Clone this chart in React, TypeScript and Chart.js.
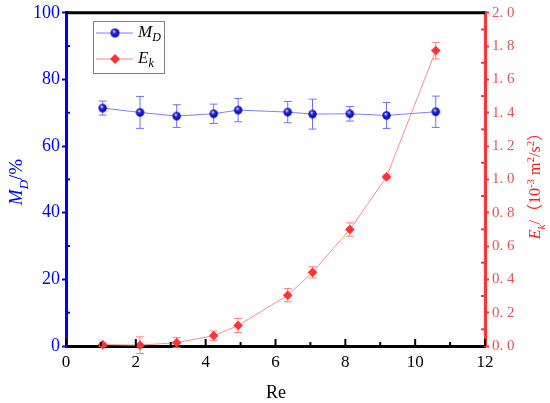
import React, { useEffect, useRef } from "react";
import { Chart, registerables } from "chart.js";
Chart.register(...registerables);

const reValues = [1.05, 2.12, 3.17, 4.23, 4.93, 6.35, 7.06, 8.13, 9.18, 10.59];
const mdValues = [71.4, 70.1, 69.0, 69.7, 70.8, 70.2, 69.6, 69.7, 69.2, 70.3];
const mdErrors = [2.1, 4.8, 3.4, 2.9, 3.5, 3.2, 4.5, 2.2, 3.9, 4.7];
const ekValues = [0.008, 0.005, 0.02, 0.062, 0.123, 0.305, 0.442, 0.699, 1.015, 1.773];
const ekErrors = [0.01, 0.05, 0.03, 0.028, 0.042, 0.04, 0.034, 0.04, 0.012, 0.05];

const SERIF = "'Liberation Serif', 'DejaVu Serif', serif";
const SERIF_CJK = "'Liberation Serif', 'Noto Sans CJK SC', serif";
const BLUE = "#0000ff";
const RED = "#ff3333";

type Seg = { t: string; it?: boolean; s?: "sub" | "sup" };

function drawRich(
  ctx: CanvasRenderingContext2D,
  segs: Seg[],
  x: number,
  y: number,
  angle: number,
  size: number,
  color: string,
  family: string,
  align: "center" | "left" = "center"
) {
  ctx.save();
  ctx.translate(x, y);
  ctx.rotate(angle);
  const font = (seg: Seg) =>
    `${seg.it ? "italic " : ""}${seg.s ? Math.round(size * 0.68) : size}px ${family}`;
  let total = 0;
  for (const seg of segs) {
    ctx.font = font(seg);
    total += ctx.measureText(seg.t).width;
  }
  let cx = align === "center" ? -total / 2 : 0;
  ctx.fillStyle = color;
  ctx.textBaseline = "alphabetic";
  ctx.textAlign = "left";
  for (const seg of segs) {
    ctx.font = font(seg);
    const dy = seg.s === "sub" ? size * 0.28 : seg.s === "sup" ? -size * 0.38 : 0;
    ctx.fillText(seg.t, cx, dy + size * 0.33);
    cx += ctx.measureText(seg.t).width;
  }
  ctx.restore();
}

function makeSphere(r: number) {
  const c = document.createElement("canvas");
  const s = Math.ceil(r * 2) + 2;
  c.width = s;
  c.height = s;
  const g = c.getContext("2d")!;
  const cx = s / 2;
  const cy = s / 2;
  const grad = g.createRadialGradient(cx - r * 0.25, cy - r * 0.4, r * 0.08, cx, cy, r);
  grad.addColorStop(0, "#e8e8ff");
  grad.addColorStop(0.35, "#2a2aff");
  grad.addColorStop(1, "#00008a");
  g.fillStyle = grad;
  g.beginPath();
  g.arc(cx, cy, r, 0, Math.PI * 2);
  g.fill();
  return c;
}

const errorBarPlugin = {
  id: "errorBars",
  beforeDatasetsDraw(chart: any) {
    const ctx = chart.ctx as CanvasRenderingContext2D;
    const xs = chart.scales.x;
    chart.data.datasets.forEach((ds: any) => {
      const ys = chart.scales[ds.yAxisID];
      ctx.save();
      ctx.strokeStyle = ds.errorColor;
      ctx.lineWidth = 1;
      ds.data.forEach((p: any, i: number) => {
        const e = ds.errors[i];
        const px = xs.getPixelForValue(p.x);
        const top = ys.getPixelForValue(p.y + e);
        const bot = ys.getPixelForValue(p.y - e);
        ctx.beginPath();
        ctx.moveTo(px, top);
        ctx.lineTo(px, bot);
        ctx.moveTo(px - 4, top);
        ctx.lineTo(px + 4, top);
        ctx.moveTo(px - 4, bot);
        ctx.lineTo(px + 4, bot);
        ctx.stroke();
      });
      ctx.restore();
    });
  },
};

const decorPlugin = {
  id: "decor",
  afterDraw(chart: any) {
    const ctx = chart.ctx as CanvasRenderingContext2D;
    const a = chart.chartArea;
    const xs = chart.scales.x;
    const yl = chart.scales.y;
    const yr = chart.scales.y1;
    ctx.save();
    // top border
    ctx.strokeStyle = "#000";
    ctx.lineWidth = 3;
    ctx.beginPath();
    ctx.moveTo(a.left, a.top);
    ctx.lineTo(a.right, a.top);
    ctx.stroke();
    // x ticks inward
    ctx.lineWidth = 2;
    for (let v = 0; v <= 12; v += 1) {
      const px = xs.getPixelForValue(v);
      const len = v % 2 === 0 ? 7 : 4;
      ctx.beginPath();
      ctx.moveTo(px, a.bottom);
      ctx.lineTo(px, a.bottom - len);
      ctx.stroke();
    }
    // left minor ticks
    ctx.strokeStyle = BLUE;
    for (let v = 10; v < 100; v += 20) {
      const py = yl.getPixelForValue(v);
      ctx.beginPath();
      ctx.moveTo(a.left, py);
      ctx.lineTo(a.left + 4, py);
      ctx.stroke();
    }
    // right minor ticks
    ctx.strokeStyle = RED;
    for (let v = 0.1; v < 2; v += 0.2) {
      const py = yr.getPixelForValue(v);
      ctx.beginPath();
      ctx.moveTo(a.right, py);
      ctx.lineTo(a.right - 4, py);
      ctx.stroke();
    }
    ctx.restore();

    // axis titles
    drawRich(ctx, [{ t: "M", it: true }, { t: "D", it: true, s: "sub" }, { t: "/%" }], 16, 182, -Math.PI / 2, 19, BLUE, SERIF);
    drawRich(
      ctx,
      [
        { t: "E", it: true },
        { t: "k", it: true, s: "sub" },
        { t: "/（" },
        { t: "10" },
        { t: "-3", s: "sup" },
        { t: " m" },
        { t: "2", s: "sup" },
        { t: "/s" },
        { t: "2", s: "sup" },
        { t: "）" },
      ],
      535,
      182,
      -Math.PI / 2,
      16,
      "#ff1a1a",
      SERIF_CJK
    );
    drawRich(ctx, [{ t: "Re" }], 276, 392, 0, 18, "#000", SERIF);

    // legend
    ctx.save();
    ctx.fillStyle = "#fff";
    ctx.fillRect(93, 21, 71, 52);
    ctx.strokeStyle = "#808080";
    ctx.lineWidth = 1;
    ctx.strokeRect(93.5, 21.5, 71, 52);
    ctx.strokeStyle = "#7f7fff";
    ctx.beginPath();
    ctx.moveTo(96, 33);
    ctx.lineTo(133, 33);
    ctx.stroke();
    ctx.strokeStyle = "#ff8080";
    ctx.beginPath();
    ctx.moveTo(96, 59);
    ctx.lineTo(133, 59);
    ctx.stroke();
    const sph = makeSphere(4.5);
    ctx.drawImage(sph, 115 - sph.width / 2, 33 - sph.height / 2);
    ctx.fillStyle = RED;
    ctx.beginPath();
    ctx.moveTo(115, 54);
    ctx.lineTo(120, 59);
    ctx.lineTo(115, 64);
    ctx.lineTo(110, 59);
    ctx.closePath();
    ctx.fill();
    ctx.restore();
    drawRich(ctx, [{ t: "M", it: true }, { t: "D", it: true, s: "sub" }], 138, 31, 0, 17, "#000", SERIF, "left");
    drawRich(ctx, [{ t: "E", it: true }, { t: "k", it: true, s: "sub" }], 138, 57, 0, 17, "#000", SERIF, "left");
  },
};

export default function App() {
  const ref = useRef<HTMLCanvasElement | null>(null);
  useEffect(() => {
    document.body.style.margin = "0";
    if (!ref.current) return;
    const sphere = makeSphere(4.2);
    const chart = new Chart(ref.current, {
      type: "line",
      data: {
        datasets: [
          {
            label: "MD",
            data: reValues.map((x, i) => ({ x, y: mdValues[i] })),
            yAxisID: "y",
            borderColor: "#7f7fff",
            borderWidth: 1,
            pointStyle: sphere as any,
            pointRadius: 4.5,
            clip: false,
            errors: mdErrors,
            errorColor: "#6f6fff",
          } as any,
          {
            label: "Ek",
            data: reValues.map((x, i) => ({ x, y: ekValues[i] })),
            yAxisID: "y1",
            borderColor: "#ff8a8a",
            borderWidth: 1,
            pointStyle: "rectRot",
            pointRadius: 4.8,
            pointBackgroundColor: RED,
            pointBorderColor: RED,
            pointBorderWidth: 0,
            clip: false,
            errors: ekErrors,
            errorColor: "#ff8080",
          } as any,
        ],
      },
      options: {
        animation: false,
        responsive: true,
        maintainAspectRatio: false,
        layout: { padding: { top: 11, left: 0, right: 0, bottom: 0 } },
        plugins: { legend: { display: false }, tooltip: { enabled: false } },
        scales: {
          x: {
            type: "linear",
            min: 0,
            max: 12,
            ticks: { stepSize: 2, color: "#000", font: { family: SERIF, size: 17 }, padding: 6 },
            grid: { drawOnChartArea: false, drawTicks: false },
            border: { color: "#000", width: 3 },
            afterFit: (s: any) => {
              s.height = 57;
            },
          },
          y: {
            type: "linear",
            position: "left",
            min: 0,
            max: 100,
            ticks: { stepSize: 20, color: BLUE, font: { family: SERIF, size: 18 }, padding: 2 },
            grid: { drawOnChartArea: false, drawTicks: true, tickLength: 4, tickWidth: 2, tickColor: BLUE },
            border: { color: BLUE, width: 3 },
            afterFit: (s: any) => {
              s.width = 66;
            },
          },
          y1: {
            type: "linear",
            position: "right",
            min: 0,
            max: 2,
            ticks: {
              stepSize: 0.2,
              color: "#e05555",
              font: { family: SERIF, size: 15 },
              padding: 3,
              callback: (v: any) => Number(v).toFixed(1).replace(".", ". "),
            },
            grid: { drawOnChartArea: false, drawTicks: true, tickLength: 4, tickWidth: 2, tickColor: RED },
            border: { color: RED, width: 3 },
            afterFit: (s: any) => {
              s.width = 65;
            },
          },
        },
      } as any,
      plugins: [errorBarPlugin, decorPlugin],
    });
    return () => chart.destroy();
  }, []);
  return (
    <div style={{ width: 550, height: 403, position: "relative" }}>
      <canvas ref={ref} />
    </div>
  );
}
